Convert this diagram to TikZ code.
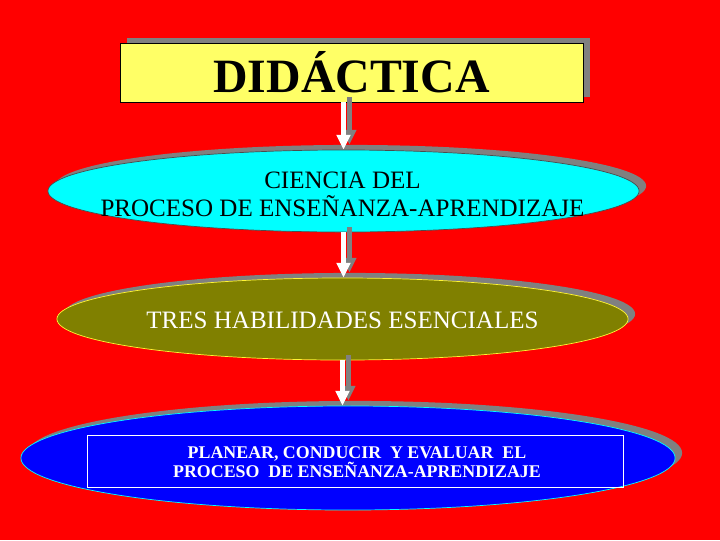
\documentclass[tikz,border=0pt]{standalone}
\usepackage{fontspec}
\setmainfont{Liberation Serif}
\usetikzlibrary{shapes.geometric,shadows,arrows.meta}
\definecolor{fondo}{RGB}{255,0,0}
\definecolor{amarillo}{RGB}{255,255,102}
\definecolor{celeste}{RGB}{0,255,255}
\definecolor{oliva}{RGB}{128,128,0}
\definecolor{azul}{RGB}{0,0,255}
\definecolor{sombragris}{RGB}{128,128,128}
\tikzset{
  sombra/.style={drop shadow={shadow xshift=5pt,shadow yshift=3.6pt,fill=sombragris,opacity=1}},
  ovalo/.style={draw,ellipse,sombra,inner sep=0pt,line width=0.5pt},
  flecha/.style={line width=3.6pt,white,-{Triangle[width=9.5pt,length=10.5pt]}},
  flechasombra/.style={flecha,sombragris,transform canvas={xshift=4.2pt,yshift=3.6pt}}
}
\begin{document}
\begin{tikzpicture}[x=0.025cm,y=-0.025cm]
    \fill[fondo] (0,0) rectangle (720,540);
    \useasboundingbox (0,0) rectangle (720,540);

    \node[draw,rectangle,fill=amarillo,sombra,minimum width=11.575cm,minimum height=1.475cm,inner sep=0pt] (didactica) at (351.5,72.5) {};
    \node[ovalo,fill=celeste,draw=black!70,minimum width=14.775cm,minimum height=2.05cm] (ciencia) at (343.5,191) {};
    \node[ovalo,fill=oliva,draw=yellow!80,minimum width=14.275cm,minimum height=2.05cm] (habilidades) at (342.5,319) {};
    \node[ovalo,fill=azul,draw=celeste,minimum width=16.35cm,minimum height=2.6cm] (planear) at (348,458) {};
    \node[draw=white,rectangle,line width=0.5pt,minimum width=13.4cm,minimum height=1.3cm,inner sep=0pt] (marco) at (355,461) {};

    \draw[flechasombra] (ciencia.north |- didactica.south) -- (ciencia.north);
    \draw[flecha] (ciencia.north |- didactica.south) -- (ciencia.north);
    \draw[flechasombra] (ciencia.south) -- (ciencia.south |- habilidades.north);
    \draw[flecha] (ciencia.south) -- (ciencia.south |- habilidades.north);
    \draw[flechasombra] (habilidades.south) -- (habilidades.south |- planear.north);
    \draw[flecha] (habilidades.south) -- (habilidades.south |- planear.north);

    \node[font=\bfseries\fontsize{34pt}{36pt}\selectfont] (titulo) at (didactica) {DIDÁCTICA};
    \node[align=center,font=\fontsize{17.8pt}{20pt}\selectfont] (ciencia-txt) at (342.5,194) {CIENCIA DEL\\PROCESO DE ENSEÑANZA-APRENDIZAJE};
    \node[white,font=\fontsize{17.8pt}{20pt}\selectfont] (habilidades-txt) at (342.5,320) {TRES HABILIDADES ESENCIALES};
    \node[white,align=center,font=\bfseries\fontsize{12.7pt}{13.2pt}\selectfont] (planear-txt) at (357,462) {PLANEAR, CONDUCIR\ \ Y EVALUAR\ \ EL\\PROCESO\ \ DE ENSEÑANZA-APRENDIZAJE};
\end{tikzpicture}
\end{document}
